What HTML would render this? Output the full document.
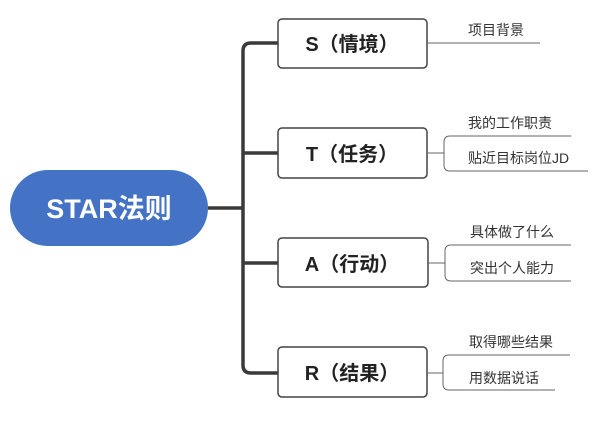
<!DOCTYPE html>
<html><head><meta charset="utf-8"><style>
body{margin:0;background:#fff;}
svg text{font-family:"Liberation Sans","Noto Sans CJK SC",sans-serif;}
</style></head><body>
<svg width="600" height="416" viewBox="0 0 600 416" xmlns="http://www.w3.org/2000/svg">
<g fill="none" stroke="#3a3a3a" stroke-width="3.5">
<path d="M208 208 H243"/>
<path d="M278 43 H251 Q243 43 243 51 V365 Q243 373 251 373 H278"/>
<path d="M243 153 H278"/>
<path d="M243 263 H278"/>
</g>
<rect x="10" y="170" width="198" height="76" rx="38" fill="#4472c4"/>
<text x="109" y="218" font-size="27" font-weight="bold" fill="#fff" text-anchor="middle">STAR法则</text>
<g fill="#fff" stroke="#444" stroke-width="1.5">
<rect x="278" y="19" width="149" height="49" rx="4"/>
<rect x="278" y="128" width="149" height="50" rx="4"/>
<rect x="278" y="238" width="150" height="49" rx="4"/>
<rect x="278" y="347" width="149" height="50" rx="4"/>
</g>
<g font-size="20" font-weight="bold" fill="#222" text-anchor="middle">
<text x="352" y="51">S（情境）</text>
<text x="352" y="161">T（任务）</text>
<text x="352" y="271">A（行动）</text>
<text x="352" y="380">R（结果）</text>
</g>
<g fill="none" stroke="#666" stroke-width="1">
<path d="M427 43 H540"/>
<path d="M427 153 H444"/><path d="M571 136 H450 Q444 136 444 142 V165 Q444 171 450 171 H588"/>
<path d="M428 263 H445"/><path d="M571 245 H451 Q445 245 445 251 V275 Q445 281 451 281 H571"/>
<path d="M427 373 H443"/><path d="M570 355 H449 Q443 355 443 361 V384 Q443 390 449 390 H555"/>
</g>
<g font-size="14" fill="#333">
<text x="468" y="35">项目背景</text>
<text x="468" y="128">我的工作职责</text>
<text x="468" y="163">贴近目标岗位JD</text>
<text x="470" y="237">具体做了什么</text>
<text x="470" y="273">突出个人能力</text>
<text x="469" y="347">取得哪些结果</text>
<text x="469" y="383">用数据说话</text>
</g>
</svg>
</body></html>
